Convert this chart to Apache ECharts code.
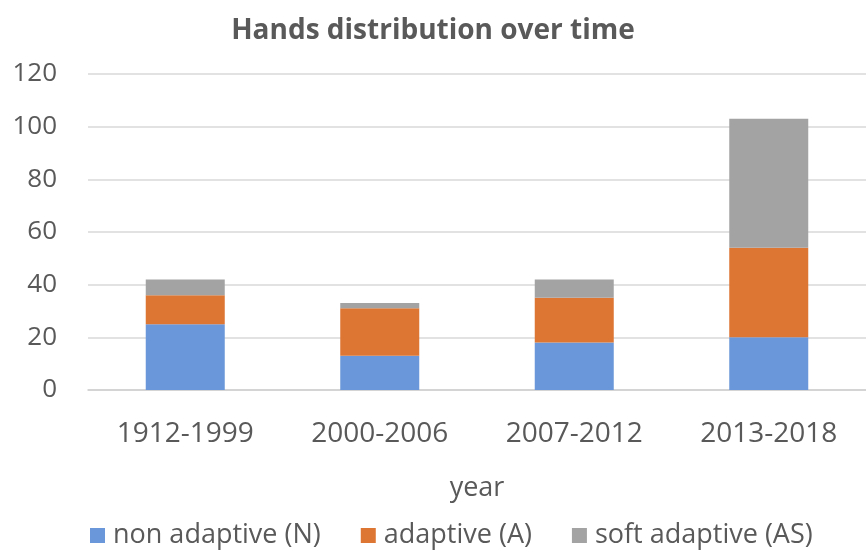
<!DOCTYPE html>
<html>
<head>
<meta charset="utf-8">
<script src="https://cdn.jsdelivr.net/npm/echarts@6/dist/echarts.min.js"></script>
<style>
  html, body { margin: 0; padding: 0; background: #fff; }
  #chart { width: 866px; height: 552px; }
</style>
</head>
<body>
<div id="chart"></div>
<script>
// Time periods on the x axis
var periods = ['1912-1999', '2000-2006', '2007-2012', '2013-2018'];
// Hand counts per period, by type
var nonAdaptive = [25, 13, 18, 20];
var adaptive = [11, 18, 17, 34];
var softAdaptive = [6, 2, 7, 49];
// Y axis ticks
var yTicks = [0, 20, 40, 60, 80, 100, 120];

var FONT = '"Open Sans", sans-serif';
var TEXT = '#595959';

var chart = echarts.init(document.getElementById('chart'), null, { renderer: 'canvas' });

function stack(name, values, color) {
  return {
    name: name,
    type: 'bar',
    stack: 'hands',
    data: values,
    barWidth: 79,
    itemStyle: { color: color },
    emphasis: { disabled: true }
  };
}

chart.setOption({
  animation: false,
  backgroundColor: '#ffffff',
  title: {
    text: 'Hands distribution over time',
    left: 'center',
    top: 12,
    textStyle: { fontFamily: FONT, fontSize: 28, fontWeight: 'bold', color: TEXT }
  },
  legend: {
    bottom: -2,
    left: 85,
    itemWidth: 15,
    itemHeight: 15,
    itemGap: 40,
    icon: 'rect',
    textStyle: { fontFamily: FONT, fontSize: 27, color: TEXT, padding: [0, 0, 0, 3] },
    data: ['non adaptive (N)', 'adaptive (A)', 'soft adaptive (AS)']
  },
  grid: { left: 88, right: -10, top: 74, bottom: 162 },
  xAxis: {
    type: 'category',
    data: periods,
    name: 'year',
    nameLocation: 'middle',
    nameGap: 85,
    nameTextStyle: { fontFamily: FONT, fontSize: 27, color: TEXT },
    axisLine: { lineStyle: { color: '#d0d0d0', width: 1.5 } },
    axisTick: { show: false },
    axisLabel: { fontFamily: FONT, fontSize: 28, color: TEXT, margin: 30 }
  },
  yAxis: {
    type: 'value',
    min: yTicks[0],
    max: yTicks[yTicks.length - 1],
    interval: yTicks[1] - yTicks[0],
    axisLine: { show: false },
    axisTick: { show: false },
    splitLine: { lineStyle: { color: '#d9d9d9', width: 1.5 } },
    axisLabel: { fontFamily: FONT, fontSize: 26, color: TEXT, margin: 31 }
  },
  series: [
    stack('non adaptive (N)', nonAdaptive, '#6a97d9'),
    stack('adaptive (A)', adaptive, '#dc7632'),
    stack('soft adaptive (AS)', softAdaptive, '#a3a3a3')
  ]
});
</script>
</body>
</html>
